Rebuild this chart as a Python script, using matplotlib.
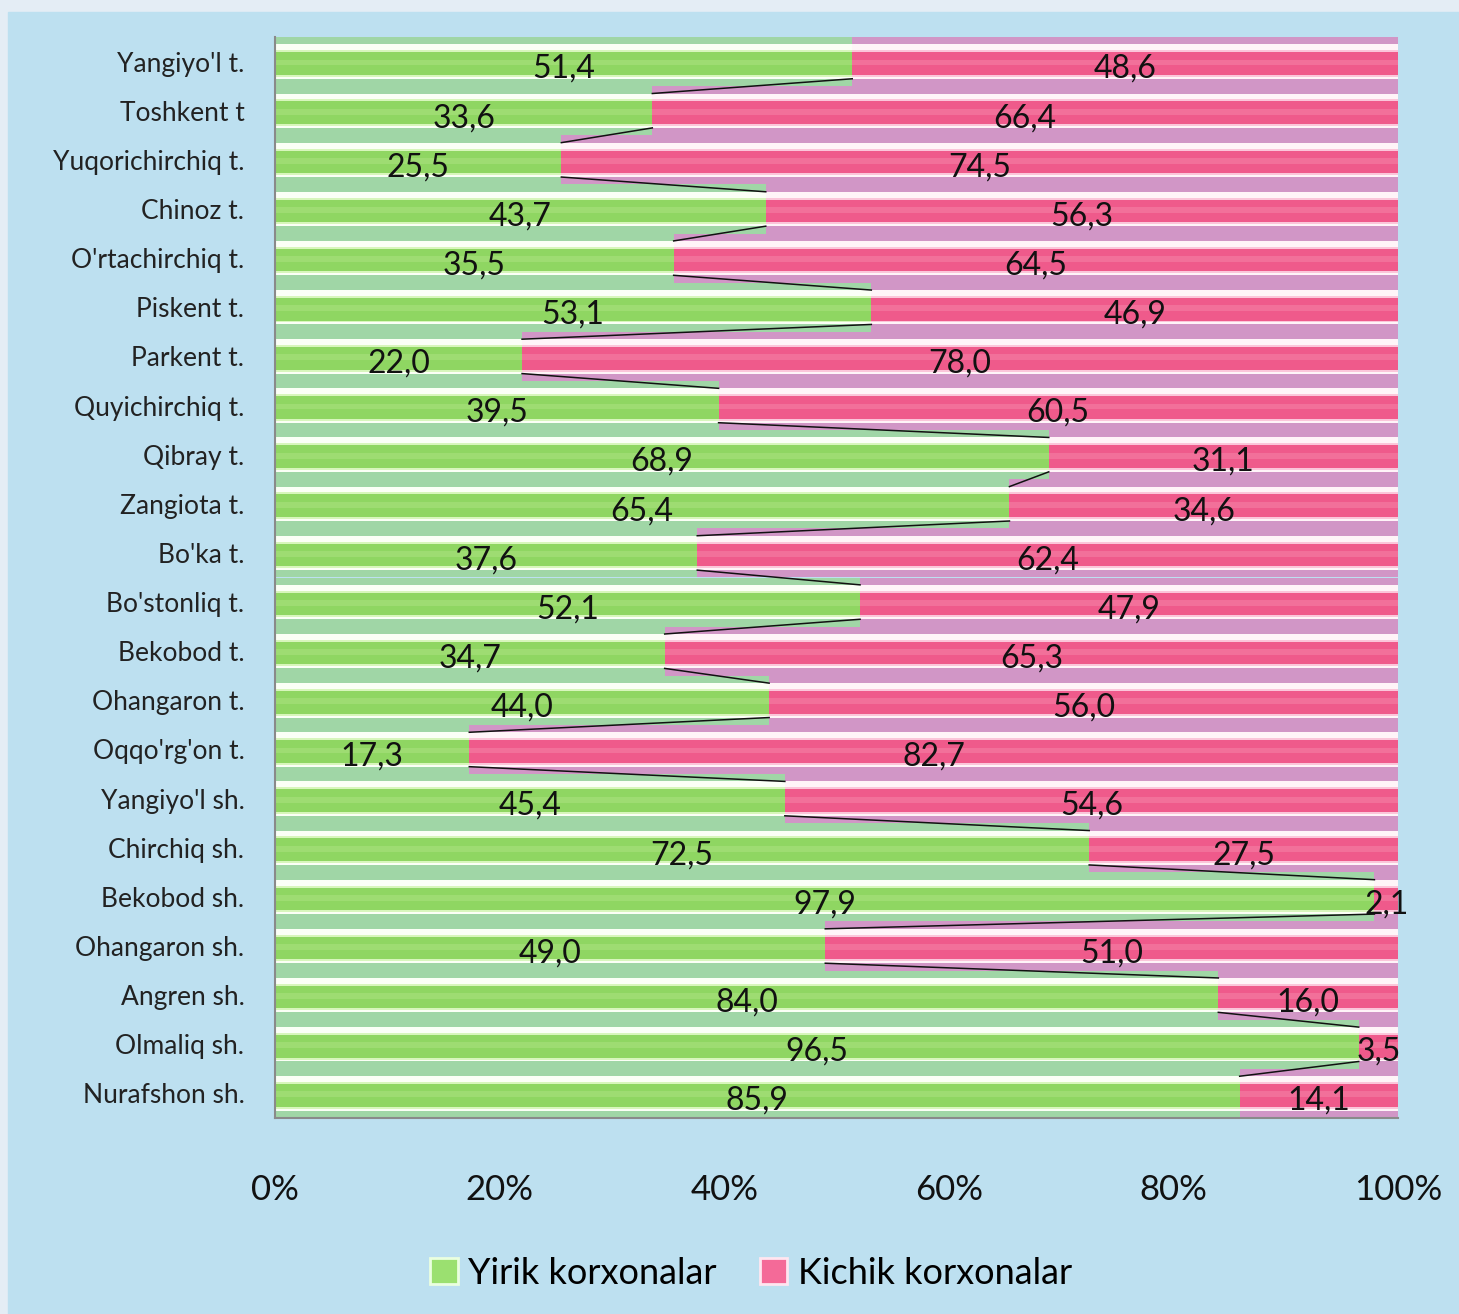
import matplotlib
matplotlib.use("Agg")
import matplotlib.pyplot as plt
from matplotlib.patches import Rectangle
import numpy as np

plt.rcParams['font.family'] = ['Lato', 'DejaVu Sans']

# districts, top to bottom
regions = ["Yangiyo'l t.", "Toshkent t", "Yuqorichirchiq t.", "Chinoz t.",
           "O'rtachirchiq t.", "Piskent t.", "Parkent t.", "Quyichirchiq t.",
           "Qibray t.", "Zangiota t.", "Bo'ka t.", "Bo'stonliq t.",
           "Bekobod t.", "Ohangaron t.", "Oqqo'rg'on t.", "Yangiyo'l sh.",
           "Chirchiq sh.", "Bekobod sh.", "Ohangaron sh.", "Angren sh.",
           "Olmaliq sh.", "Nurafshon sh."]
yirik = [51.4, 33.6, 25.5, 43.7, 35.5, 53.1, 22.0, 39.5, 68.9, 65.4, 37.6,
         52.1, 34.7, 44.0, 17.3, 45.4, 72.5, 97.9, 49.0, 84.0, 96.5, 85.9]
kichik = [48.6, 66.4, 74.5, 56.3, 64.5, 46.9, 78.0, 60.5, 31.1, 34.6, 62.4,
          47.9, 65.3, 56.0, 82.7, 54.6, 27.5, 2.1, 51.0, 16.0, 3.5, 14.1]
xticks = [0, 20, 40, 60, 80, 100]

fig = plt.figure(figsize=(14.59, 13.14), dpi=100, facecolor='#e4edf5')
fig.patches.append(Rectangle((8 / 1459, 0), 1, 1 - 12 / 1314,
                             transform=fig.transFigure, color='#bde0f0', zorder=0))
ax = fig.add_axes([275 / 1459, 1 - 1118 / 1314, 1123 / 1459, 1081 / 1314])
ax.set_zorder(2)
ax.set_facecolor('#bde0f0')

y = np.arange(len(regions))
g = np.array(yirik)
p = np.array(kichik)

# bars: pale outer band, white bevel, bright core (height, offset, colours)
layers = [(1.0, 0.0, '#a0d6a6', '#d196c6'),
          (0.70, 0.0, '#fbfff6', '#fff4f8'),
          (0.54, 0.04, '#d8f6bc', '#fbc6da'),
          (0.46, 0.04, '#8fd662', '#ef5a8b'),
          (0.12, 0.02, '#9edc72', '#f2709a')]
for k, (hh, off, cg, cp) in enumerate(layers):
    ax.barh(y + off, g, height=hh, color=cg, zorder=2 + k)
    ax.barh(y + off, p, left=g, height=hh, color=cp, zorder=2 + k)

# series lines
h = 0.70
for i in range(len(regions) - 1):
    ax.plot([g[i], g[i + 1]], [y[i] + h / 2, y[i + 1] - h / 2],
            color='#111111', lw=1.1, zorder=8)

def fmt(v):
    return f"{v:.1f}".replace('.', ',')

for i in range(len(regions)):
    ax.text(g[i] / 2, y[i] + 0.15, fmt(g[i]), ha='center', va='center',
            fontsize=23, color='#111111', zorder=9)
    ax.text(g[i] + p[i] / 2, y[i] + 0.15, fmt(p[i]), ha='center', va='center',
            fontsize=23, color='#111111', zorder=9)

ax.set_xlim(0, 100)
ax.set_ylim(len(regions) - 0.5, -0.5)
ax.set_yticks(y)
ax.set_yticklabels(regions, fontsize=19, color='#222222')
ax.set_xticks(xticks)
ax.set_xticklabels([f"{t}%" for t in xticks], fontsize=25, color='#111111')
ax.tick_params(axis='x', length=0, pad=40)
ax.tick_params(axis='y', length=0, pad=22)
for s in ['top', 'right']:
    ax.spines[s].set_visible(False)
for s in ['left', 'bottom']:
    ax.spines[s].set_color('#8a8a8a')
    ax.spines[s].set_linewidth(1.5)
    ax.spines[s].set_zorder(10)

handles = [Rectangle((0, 0), 1, 1, facecolor='#9be070', edgecolor='#eaffe0', lw=2),
           Rectangle((0, 0), 1, 1, facecolor='#f46a98', edgecolor='#ffe6f0', lw=2)]
leg = fig.legend(handles, ["Yirik korxonalar", "Kichik korxonalar"], loc='center',
                 bbox_to_anchor=(0.515, 1 - 1273 / 1314), ncol=2, frameon=False,
                 fontsize=26, handlelength=0.75, handleheight=0.75, handletextpad=0.3,
                 columnspacing=1.2)
leg.set_zorder(3)

fig.savefig('out.png', dpi=100, facecolor=fig.get_facecolor())
